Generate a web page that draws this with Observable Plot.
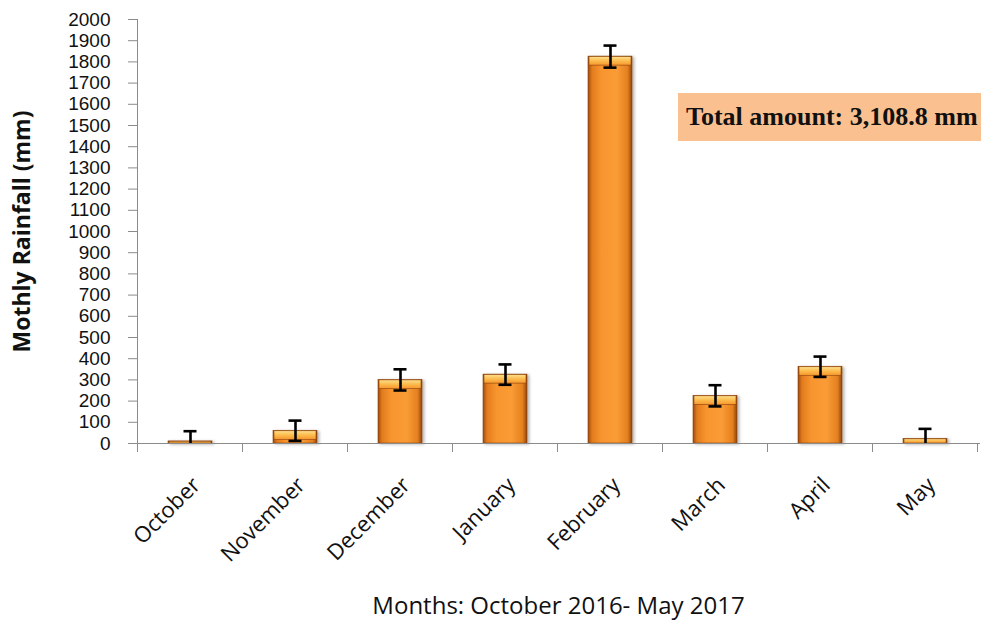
<!DOCTYPE html>
<html><head><meta charset="utf-8">
<script src="https://cdn.jsdelivr.net/npm/d3@7"></script>
<script src="https://cdn.jsdelivr.net/npm/@observablehq/plot@0.6"></script>
<style>
body{margin:0;background:#fff;}
#wrap{position:relative;width:981px;height:629px;overflow:hidden;background:#fff;}
#note{position:absolute;left:678px;top:93px;width:320px;height:48px;background:#FAC090;font:bold 26px "Liberation Serif","Times New Roman",serif;color:#111;line-height:48px;padding-left:8px;white-space:nowrap;box-sizing:border-box;}
</style></head><body><div id="wrap"></div>
<script>
const months = ["October","November","December","January","February","March","April","May"];
const rainfall = [10, 60, 300, 325, 1825, 225, 362, 22];
const errors = [48, 48, 50, 48, 52, 50, 48, 47];
const yTicks = d3.range(0, 2001, 100);
const xTitle = "Months: October 2016- May 2017";
const yTitle = "Mothly Rainfall (mm)";
const totalNote = "Total amount: 3,108.8 mm";

const data = months.map((m, i) => ({
  month: m, value: rainfall[i], err: errors[i],
  lo: Math.max(0, rainfall[i] - errors[i]), hi: rainfall[i] + errors[i]
}));

const font = "'Open Sans', 'Noto Sans', sans-serif";
const plot = Plot.plot({
  width: 981, height: 629,
  marginLeft: 137, marginRight: 2, marginTop: 19, marginBottom: 186,
  style: {fontFamily: font, background: "#fff", color: "#111", overflow: "visible"},
  x: {domain: months, paddingInner: 0.58, paddingOuter: 0.29, label: null},
  y: {domain: [0, 2000], label: null},
  marks: [
    Plot.barY(data, {x: "month", y: "value", fill: "url(#barGrad)", stroke: "#8a4210", strokeWidth: 0.6}),
    Plot.ruleX(data, {x: "month", y1: "lo", y2: "hi", stroke: "#000", strokeWidth: 2.6}),
    Plot.tickY(data, {x: "month", y: "hi", stroke: "#000", strokeWidth: 2.6, insetLeft: 15.5, insetRight: 15.5}),
    Plot.tickY(data.filter(d => d.value - d.err > 0), {x: "month", y: "lo", stroke: "#000", strokeWidth: 2.6, insetLeft: 15.5, insetRight: 15.5}),
    Plot.frame({anchor: "left", stroke: "#8c8c8c"}),
    Plot.frame({anchor: "bottom", stroke: "#8c8c8c"}),
    Plot.axisY({ticks: yTicks, tickSize: 9, tickPadding: 18, fontSize: 19, fontFamily: "'Liberation Sans', Arial, sans-serif", stroke: "#8c8c8c", tickFormat: d => String(d), label: null}),
    Plot.axisX({tickSize: 0, tickRotate: -45, tickPadding: 38, dx: 6, fontSize: 22, label: null}),
    Plot.text([xTitle], {frameAnchor: "bottom", dy: 170, fontSize: 24, fill: "#111"}),
    Plot.text([yTitle], {frameAnchor: "left", textAnchor: "middle", dx: -115, rotate: -90, fontSize: 23, fontWeight: "bold", fill: "#111"})
  ]
});

// gradients & bevel highlight
const svg = d3.select(plot.tagName === "svg" ? plot : plot.querySelector("svg"));
const defs = svg.insert("defs", ":first-child");
const g1 = defs.append("linearGradient").attr("id", "barGrad").attr("x1", 0).attr("x2", 1).attr("y1", 0).attr("y2", 0);
[["0%", "#9a4a10"], ["9%", "#e27b1d"], ["30%", "#f8952e"], ["65%", "#fa9c36"], ["90%", "#e4801f"], ["100%", "#8f440e"]]
  .forEach(([o, c]) => g1.append("stop").attr("offset", o).attr("stop-color", c));
const g2 = defs.append("linearGradient").attr("id", "topGrad").attr("x1", 0).attr("x2", 0).attr("y1", 0).attr("y2", 1);
[["0%", "#fde08a"], ["55%", "#fbb84a"], ["100%", "#f8982f"]]
  .forEach(([o, c]) => g2.append("stop").attr("offset", o).attr("stop-color", c));
const f = defs.append("filter").attr("id", "shadow").attr("x", "-20%").attr("y", "-5%").attr("width", "150%").attr("height", "115%");
f.append("feDropShadow").attr("dx", 2).attr("dy", 1).attr("stdDeviation", 1.5).attr("flood-color", "#000").attr("flood-opacity", 0.3);

const barG = svg.select("g[aria-label=bar]");
barG.attr("filter", "url(#shadow)");
barG.selectAll("rect").each(function() {
  const r = d3.select(this);
  const x = +r.attr("x"), y = +r.attr("y"), w = +r.attr("width"), h = +r.attr("height");
  const hh = Math.min(9, h);
  barG.append("rect").attr("x", x + 1).attr("y", y + 0.5).attr("width", w - 2).attr("height", hh - 0.5).attr("fill", "url(#topGrad)");
});

// category boundary ticks on the x axis
const xs = plot.scale("x");
const ys = plot.scale("y");
const gap = (xs.step - xs.bandwidth) / 2;
const bounds = months.map(m => xs.apply(m) - gap).concat([xs.apply(months[months.length - 1]) + xs.bandwidth + gap]);
const y0 = ys.apply(0);
const tg = svg.append("g").attr("stroke", "#8c8c8c");
bounds.forEach(b => tg.append("line").attr("x1", b).attr("x2", b).attr("y1", y0).attr("y2", y0 + 9));

const wrap = document.getElementById("wrap");
wrap.appendChild(plot);
const note = document.createElement("div");
note.id = "note";
note.textContent = totalNote;
wrap.appendChild(note);
</script>
</body></html>
